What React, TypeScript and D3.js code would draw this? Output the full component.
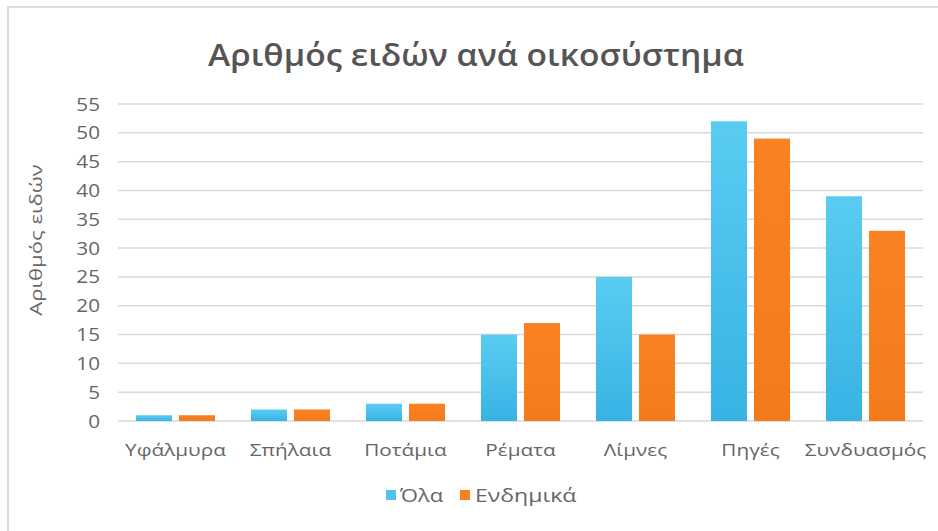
import React from "react";
import * as d3 from "d3";

const categories = ["Υφάλμυρα", "Σπήλαια", "Ποτάμια", "Ρέματα", "Λίμνες", "Πηγές", "Συνδυασμός"];
const allValues = [1, 2, 3, 15, 25, 52, 39];
const endemicValues = [1, 2, 3, 17, 15, 49, 33];
const seriesNames = ["Όλα", "Ενδημικά"];
const yTicks = [0, 5, 10, 15, 20, 25, 30, 35, 40, 45, 50, 55];

const W = 938;
const H = 531;
const left = 118;
const right = 923;
const top = 104;
const bottom = 421;
const font = "'Open Sans', 'Noto Sans', sans-serif";

function SText(props: { x: number; y: number; sx: number; size: number; anchor?: string; weight?: number; fill?: string; rotate?: number; children: React.ReactNode }) {
  const { x, y, sx, size, anchor = "start", weight = 400, fill = "#666", rotate = 0, children } = props;
  return (
    <text
      transform={`translate(${x},${y}) rotate(${rotate}) scale(${sx},1)`}
      textAnchor={anchor}
      fontFamily={font}
      fontSize={size}
      fontWeight={weight}
      fill={fill}
    >
      {children}
    </text>
  );
}

export default function App() {
  const x = d3.scaleBand<string>().domain(categories).range([left, right]).paddingInner(0).paddingOuter(0);
  const y = d3.scaleLinear().domain([0, 55]).range([bottom, top]);
  const bw = x.bandwidth();
  const barW = 36;
  const gap = 7;
  const series = [
    { name: seriesNames[0], values: allValues, fill: "url(#gBlue)", sw: "#4FC3EE" },
    { name: seriesNames[1], values: endemicValues, fill: "url(#gOrange)", sw: "#F7801F" },
  ];
  return (
    <svg width={W} height={H} style={{ position: "absolute", left: 0, top: 0, background: "#fff" }}>
      <defs>
        <linearGradient id="gBlue" x1="0" y1="0" x2="0" y2="1">
          <stop offset="0" stopColor="#5ACCF2" />
          <stop offset="1" stopColor="#38B3E3" />
        </linearGradient>
        <linearGradient id="gOrange" x1="0" y1="0" x2="0" y2="1">
          <stop offset="0" stopColor="#FA8222" />
          <stop offset="1" stopColor="#F57B1A" />
        </linearGradient>
      </defs>
      <rect x={8} y={7} width={W + 10} height={H + 10} fill="#fff" stroke="#dcdcdc" strokeWidth={2} />
      <SText x={476} y={66} sx={1.12} size={30} anchor="middle" weight={600} fill="#555">
        Αριθμός ειδών ανά οικοσύστημα
      </SText>
      {yTicks.map((t) => (
        <g key={t}>
          <line x1={left} x2={right} y1={y(t)} y2={y(t)} stroke="#d9d9d9" strokeWidth={1.5} />
          <SText x={100} y={y(t) + 6.5} sx={1.15} size={18} anchor="end">
            {t}
          </SText>
        </g>
      ))}
      <SText x={42} y={240} sx={1.3} size={17} anchor="middle" rotate={-90}>
        Αριθμός ειδών
      </SText>
      {categories.map((c, i) => {
        const cx = (x(c) as number) + bw / 2;
        return (
          <g key={c}>
            {series.map((s, k) => {
              const bx = k === 0 ? cx - gap / 2 - barW : cx + gap / 2;
              const v = s.values[i];
              return (
                <rect key={k} x={bx} y={y(v)} width={barW} height={y(0) - y(v)} fill={s.fill} />
              );
            })}
            <SText x={cx} y={456} sx={1.22} size={17} anchor="middle">
              {c}
            </SText>
          </g>
        );
      })}
      <g>
        <rect x={386} y={490} width={10} height={10} fill={series[0].sw} />
        <SText x={400} y={502} sx={1.22} size={18}>{seriesNames[0]}</SText>
        <rect x={460} y={490} width={10} height={10} fill={series[1].sw} />
        <SText x={475} y={502} sx={1.28} size={18}>{seriesNames[1]}</SText>
      </g>
    </svg>
  );
}
